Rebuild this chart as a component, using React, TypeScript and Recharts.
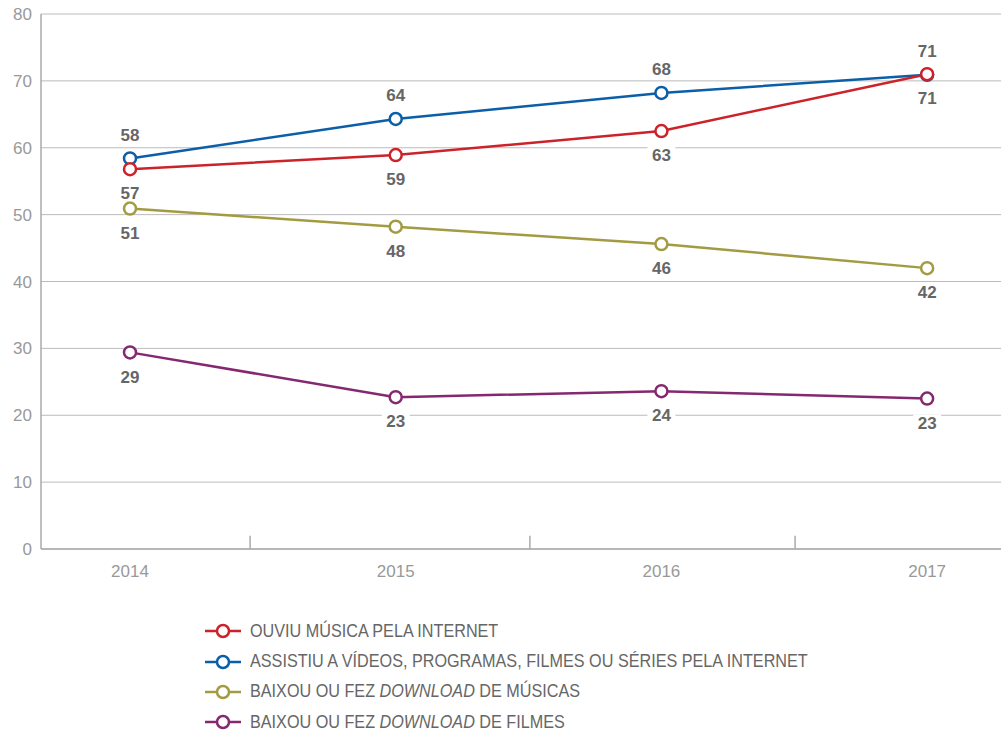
import { LineChart, Line, XAxis, YAxis, CartesianGrid, Legend, LabelList, ReferenceLine } from 'recharts';

const years = [2014, 2015, 2016, 2017];
const musica = [56.8, 58.9, 62.5, 71.0];
const videos = [58.4, 64.3, 68.2, 70.9];
const baixouMusicas = [50.9, 48.2, 45.6, 42.0];
const baixouFilmes = [29.4, 22.7, 23.6, 22.5];
const yTicks = [0, 10, 20, 30, 40, 50, 60, 70, 80];
// tick marks on the x axis, between the years
const separators = [2014.452, 2015.505, 2016.503];

const data = years.map((year, i) => ({
  year,
  musica: musica[i],
  videos: videos[i],
  baixouMusicas: baixouMusicas[i],
  baixouFilmes: baixouFilmes[i],
}));

const series = [
  { key: 'musica', color: '#cc2229', labelPos: 'below', name: <>OUVIU MÚSICA PELA INTERNET</> },
  { key: 'videos', color: '#0b5ea8', labelPos: 'above', name: <>ASSISTIU A VÍDEOS, PROGRAMAS, FILMES OU SÉRIES PELA INTERNET</> },
  { key: 'baixouMusicas', color: '#a39b42', labelPos: 'below', name: <>BAIXOU OU FEZ <i>DOWNLOAD</i> DE MÚSICAS</> },
  { key: 'baixouFilmes', color: '#85286f', labelPos: 'below', name: <>BAIXOU OU FEZ <i>DOWNLOAD</i> DE FILMES</> },
];
// red is drawn over blue in the original
const drawOrder = ['videos', 'musica', 'baixouMusicas', 'baixouFilmes'];

const FONT = '"Liberation Sans", Arial, sans-serif';

function makeLabel(pos: string) {
  return (props: any) => {
    const { x, y, value } = props;
    const cy = pos === 'above' ? y - 24 : y + 24;
    return (
      <g>
        <rect x={x - 14} y={cy - 8} width={28} height={16} fill="#fff" />
        <text x={x} y={cy} dy="0.36em" textAnchor="middle" fontFamily={FONT} fontSize={17} fontWeight={700} fill="#666">
          {Math.round(value)}
        </text>
      </g>
    );
  };
}

function LegendBox() {
  return (
    <div style={{ paddingLeft: 205, paddingTop: 7, height: 115, fontFamily: FONT, fontSize: 17.5, color: '#666' }}>
      {series.map((s) => (
        <div key={s.key} style={{ height: 30.4, display: 'flex', alignItems: 'center', whiteSpace: 'nowrap' }}>
          <svg width={36} height={16} style={{ marginRight: 9, flex: 'none' }}>
            <line x1={0} y1={8} x2={36} y2={8} stroke={s.color} strokeWidth={2.5} />
            <circle cx={18} cy={8} r={6} fill="#fff" stroke={s.color} strokeWidth={2.5} />
          </svg>
          <span style={{ display: 'inline-block', transform: 'scaleX(0.925)', transformOrigin: 'left center' }}>{s.name}</span>
        </div>
      ))}
    </div>
  );
}

export default function App() {
  return (
    <div style={{ position: 'absolute', left: 0, top: 0, width: 1003, height: 731, background: '#fff' }}>
      <LineChart width={1003} height={731} data={data} margin={{ top: 14, right: 2, bottom: 0, left: 0 }}>
        <CartesianGrid vertical={false} stroke="#bbb" strokeWidth={1} />
        <XAxis
          dataKey="year"
          type="number"
          domain={[2013.665, 2017.278]}
          ticks={years}
          allowDataOverflow
          tickLine={false}
          axisLine={{ stroke: '#aaa', strokeWidth: 1.5 }}
          tick={{ fill: '#999', fontSize: 17, fontFamily: FONT }}
          tickMargin={10}
          height={60}
        />
        <YAxis
          domain={[0, 80]}
          ticks={yTicks}
          width={41}
          tickLine={false}
          tickSize={0}
          tickMargin={9}
          axisLine={{ stroke: '#aaa', strokeWidth: 1.5 }}
          tick={{ fill: '#999', fontSize: 17, fontFamily: FONT }}
        />
        {separators.map((x) => (
          <ReferenceLine key={x} segment={[{ x, y: 0 }, { x, y: 2 }]} stroke="#aaa" strokeWidth={1.5} />
        ))}
        <Legend verticalAlign="bottom" align="left" content={() => <LegendBox />} />
        {drawOrder.map((key) => {
          const s = series.find((d) => d.key === key)!;
          return (
            <Line
              key={s.key}
              dataKey={s.key}
              stroke={s.color}
              strokeWidth={2.5}
              type="linear"
              dot={{ r: 6, fill: '#fff', stroke: s.color, strokeWidth: 2.5 }}
              activeDot={false}
              isAnimationActive={false}
            >
              <LabelList dataKey={s.key} content={makeLabel(s.labelPos)} />
            </Line>
          );
        })}
      </LineChart>
    </div>
  );
}
